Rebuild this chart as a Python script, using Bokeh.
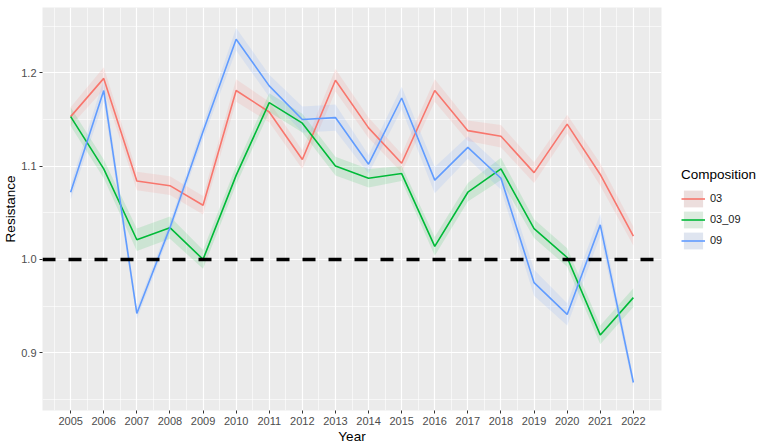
from bokeh.plotting import figure
from bokeh.models import Range1d, FixedTicker, Span, Legend, LegendItem, ColumnDataSource, PrintfTickFormatter
from bokeh.embed import file_html
from bokeh.resources import INLINE

years = list(range(2005, 2023))
series_names = ["03", "03_09", "09"]

res_03 = [1.153, 1.194, 1.084, 1.079, 1.058, 1.181, 1.158, 1.107, 1.192, 1.141,
          1.103, 1.181, 1.138, 1.132, 1.093, 1.145, 1.091, 1.025]
res_03_09 = [1.153, 1.097, 1.021, 1.034, 1.000, 1.090, 1.168, 1.146, 1.100, 1.087,
             1.092, 1.014, 1.072, 1.097, 1.033, 1.002, 0.919, 0.959]
res_09 = [1.072, 1.181, 0.942, 1.034, 1.137, 1.236, 1.186, 1.150, 1.152, 1.102,
          1.173, 1.085, 1.120, 1.087, 0.975, 0.941, 1.037, 0.868]

ci_03 = [0.010, 0.012, 0.010, 0.010, 0.010, 0.012, 0.011, 0.010, 0.012, 0.011,
         0.010, 0.012, 0.011, 0.012, 0.011, 0.010, 0.012, 0.010]
ci_03_09 = [0.010, 0.010, 0.012, 0.012, 0.010, 0.010, 0.010, 0.010, 0.010, 0.010,
            0.008, 0.010, 0.010, 0.012, 0.010, 0.010, 0.010, 0.010]
ci_09 = [0.008, 0.012, 0.006, 0.006, 0.008, 0.012, 0.012, 0.014, 0.014, 0.010,
         0.012, 0.014, 0.012, 0.012, 0.014, 0.012, 0.012, 0.006]

y_ticks = [0.9, 1.0, 1.1, 1.2]
y_minor = [0.85, 0.95, 1.05, 1.15, 1.25]
reference_level = 1.0

colors = ["#F8766D", "#00BA38", "#619CFF"]
key_fills = ["#ECDEDD", "#DCEBDF", "#DFE5F0"]
FONT = "Liberation Sans"

p = figure(frame_width=619, frame_height=403, output_backend="svg", toolbar_location=None,
           title=None,
           x_range=Range1d(2004.15, 2022.85), y_range=Range1d(0.838, 1.27),
           min_border_left=42, min_border_right=100, min_border_top=7, min_border_bottom=38,
           background_fill_color="#EBEBEB", border_fill_color="white",
           outline_line_color=None)

p.xgrid.grid_line_color = "white"
p.ygrid.grid_line_color = "white"
p.xgrid.grid_line_width = 1.2
p.ygrid.grid_line_width = 1.2
p.xgrid.minor_grid_line_color = "white"
p.ygrid.minor_grid_line_color = "white"
p.xgrid.minor_grid_line_width = 0.6
p.ygrid.minor_grid_line_width = 0.6

p.xaxis.ticker = FixedTicker(ticks=years, minor_ticks=[y - 0.5 for y in years] + [years[-1] + 0.5])
p.yaxis.ticker = FixedTicker(ticks=y_ticks, minor_ticks=y_minor)
p.yaxis.formatter = PrintfTickFormatter(format="%.1f")
p.xaxis.formatter = PrintfTickFormatter(format="%d")

for ax in (p.xaxis, p.yaxis):
    ax.axis_line_color = None
    ax.major_tick_line_color = "#333333"
    ax.major_tick_out = 3
    ax.major_tick_in = 0
    ax.minor_tick_line_color = None
    ax.major_label_text_color = "#4D4D4D"
    ax.major_label_text_font = FONT
    ax.major_label_text_font_size = "11px"
    ax.major_label_standoff = 2
    ax.axis_label_text_font = FONT
    ax.axis_label_text_font_size = "13.5px"
    ax.axis_label_text_font_style = "normal"
    ax.axis_label_text_color = "black"
p.xaxis.axis_label = "Year"
p.yaxis.axis_label = "Resistance"
p.xaxis.axis_label_standoff = 1
p.yaxis.axis_label_standoff = 0

all_vals = [res_03, res_03_09, res_09]
all_ci = [ci_03, ci_03_09, ci_09]

for vals, ci, c in zip(all_vals, all_ci, colors):
    src = ColumnDataSource(dict(x=years, y=vals,
                                lo=[v - e for v, e in zip(vals, ci)],
                                hi=[v + e for v, e in zip(vals, ci)]))
    p.varea(x="x", y1="lo", y2="hi", source=src, fill_color=c, fill_alpha=0.13)

for vals, c in zip(all_vals, colors):
    p.line(x=years, y=vals, line_color=c, line_width=1.6)

p.add_layout(Span(location=reference_level, dimension="width", line_color="black",
                  line_width=3.5, line_dash="13 13"))

items = []
for name, vals, c, kf in zip(series_names, all_vals, colors, key_fills):
    r_area = p.varea(x=years, y1=vals, y2=vals, fill_color=kf, fill_alpha=1.0, visible=False)
    r_line = p.line(x=years, y=vals, line_color=c, line_width=1.6, visible=False)
    items.append(LegendItem(label=name, renderers=[r_area, r_line]))

legend = Legend(items=items, title="Composition", location="center_left",
                glyph_width=24, glyph_height=21, label_height=21, spacing=0,
                margin=20, padding=0, label_standoff=5,
                inactive_fill_alpha=0.0,
                label_text_font=FONT, label_text_font_size="11px", label_text_color="#1A1A1A",
                title_text_font=FONT, title_text_font_size="13.5px", title_text_font_style="normal",
                title_text_color="black", title_standoff=6,
                border_line_color=None, background_fill_color="white", background_fill_alpha=1.0)
p.add_layout(legend, "right")

open("out.html", "w").write(file_html(p, INLINE))
